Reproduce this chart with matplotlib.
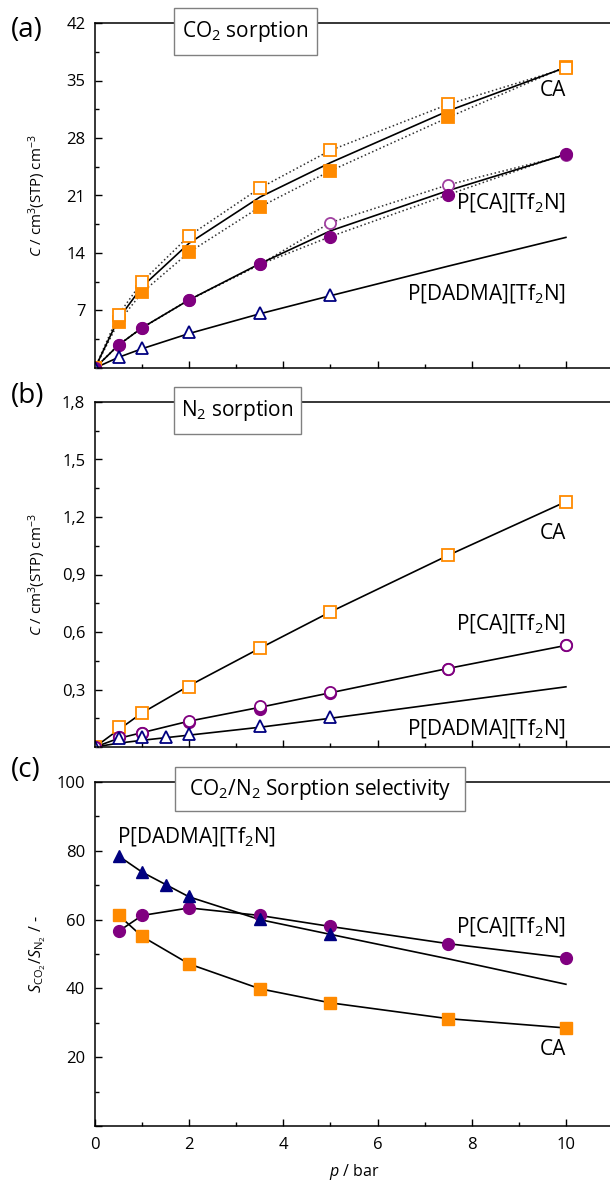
import matplotlib
matplotlib.use("Agg")
import matplotlib.pyplot as plt
from matplotlib.patches import Rectangle
from matplotlib.ticker import FuncFormatter, MultipleLocator

plt.rcParams["font.family"] = ["Open Sans", "DejaVu Sans"]
plt.rcParams["mathtext.fontset"] = "custom"
plt.rcParams["mathtext.rm"] = "Open Sans"
plt.rcParams["mathtext.it"] = "Open Sans:italic"
plt.rcParams["mathtext.bf"] = "Open Sans:bold"

ORANGE = "#ff8a00"
PURPLE = "#800080"
NAVY = "#000080"

# pressures (bar)
p_iso = [0, 0.5, 1, 2, 3.5, 5, 7.5, 10]
p_dadma_co2 = [0, 0.5, 1, 2, 3.5, 5]
p_dadma_n2 = [0, 0.5, 1, 1.5, 2, 3.5, 5]
p_sel = [0.5, 1, 2, 3.5, 5, 7.5, 10]
p_sel_dadma = [0.5, 1, 1.5, 2, 3.5, 5]
p_sel_dadma_fit = [0.5, 1, 1.5, 2, 3.5, 5, 7.5, 10]

# CO2 sorption, cm3(STP)/cm3
co2_ca_filled = [0, 5.6, 9.2, 14.1, 19.6, 24.0, 30.5, 36.7]
co2_ca_open = [0, 6.5, 10.5, 16.1, 21.9, 26.5, 32.1, 36.5]
co2_ca_fit = [0, 6.0, 9.9, 15.2, 20.8, 25.0, 31.3, 36.6]
co2_pca_filled = [0, 2.8, 4.9, 8.3, 12.6, 16.0, 21.1, 26.1]
co2_pca_open = [0, 2.8, 4.9, 8.3, 12.6, 17.7, 22.3, 25.9]
co2_pca_fit = [0, 2.8, 4.9, 8.3, 12.7, 16.7, 21.6, 26.0]
co2_dadma = [0, 1.35, 2.45, 4.35, 6.75, 8.9]
co2_dadma_fit = [0, 1.3, 2.35, 4.2, 6.6, 8.8, 12.4, 15.9]

# N2 sorption, cm3(STP)/cm3
n2_ca = [0, 0.105, 0.178, 0.315, 0.517, 0.706, 1.002, 1.279]
n2_ca_fit = [0, 0.09, 0.178, 0.32, 0.515, 0.705, 1.0, 1.28]
n2_pca_filled = [0, 0.05, 0.072, 0.13, 0.197, 0.283, 0.405, 0.53]
n2_pca_open = [0, 0.05, 0.075, 0.134, 0.214, 0.287, 0.408, 0.530]
n2_pca_fit = [0, 0.045, 0.075, 0.135, 0.207, 0.283, 0.41, 0.53]
n2_dadma = [0, 0.045, 0.054, 0.054, 0.068, 0.108, 0.157]
n2_dadma_fit = [0, 0.02, 0.035, 0.062, 0.103, 0.15, 0.232, 0.314]

# CO2/N2 sorption selectivity
sel_ca = [61.3, 55.1, 47.1, 39.9, 35.8, 31.2, 28.5]
sel_pca = [56.6, 61.2, 63.4, 61.2, 58.0, 53.0, 48.9]
sel_dadma = [78.5, 73.8, 70.2, 66.9, 60.2, 55.9]
sel_dadma_fit = [78.5, 73.8, 70.2, 66.6, 60.0, 55.7, 48.6, 41.2]

W, H = 610, 1184
fig = plt.figure(figsize=(W / 100, H / 100), dpi=100)


def px_axes(top, bottom):
    left, right = 95, 613
    return fig.add_axes([left / W, 1 - bottom / H, (right - left) / W, (bottom - top) / H])


def style_axes(ax, ymax, ymajor, fmt, show_x):
    ax.set_xlim(0, 11)
    ax.set_ylim(0, ymax)
    ax.xaxis.set_major_locator(MultipleLocator(2))
    ax.xaxis.set_minor_locator(MultipleLocator(1))
    ax.yaxis.set_major_locator(MultipleLocator(ymajor))
    ax.yaxis.set_minor_locator(MultipleLocator(ymajor / 2))
    ax.spines["right"].set_visible(False)
    for s in ax.spines.values():
        s.set_linewidth(1.1)
    ax.tick_params(which="both", direction="in", top=False, right=False, width=1)
    ax.tick_params(which="major", length=5, labelsize=12, pad=7)
    ax.tick_params(which="minor", length=3)
    ax.tick_params(axis="x", pad=8)
    ax.yaxis.set_major_formatter(FuncFormatter(lambda v, _: "" if abs(v) < 1e-9 else fmt(v)))
    if not show_x:
        ax.set_xticklabels([])
    ax.yaxis.set_label_coords(-0.09, 0.5)


def title_box(x0, y0, x1, y1, text):
    fig.add_artist(Rectangle((x0 / W, 1 - y1 / H), (x1 - x0) / W, (y1 - y0) / H,
                             transform=fig.transFigure, facecolor="white",
                             edgecolor="#808080", linewidth=1, zorder=10))
    fig.text((x0 + x1) / 2 / W, 1 - (y0 + y1) / 2 / H, text, ha="center", va="center",
             fontsize=15, zorder=11)


mk = dict(markersize=8, markeredgewidth=1.3)
series_fs = 15
ylab_fs = 10.8

# (a) CO2 sorption
ax = px_axes(23, 368)
ax.plot(p_iso, co2_ca_open, ":", color="#303030", lw=1.1)
ax.plot(p_iso, co2_ca_filled, ":", color="#303030", lw=1.1)
ax.plot(p_iso, co2_ca_fit, "-", color="black", lw=1.2)
ax.plot(p_iso, co2_pca_open, ":", color="#303030", lw=1.1)
ax.plot(p_iso, co2_pca_filled, ":", color="#303030", lw=1.1)
ax.plot(p_iso, co2_pca_fit, "-", color="black", lw=1.2)
ax.plot(p_iso, co2_dadma_fit, "-", color="black", lw=1.2)
ax.plot(p_iso, co2_ca_filled, "s", color=ORANGE, **mk)
ax.plot(p_iso, co2_ca_open, "s", mfc="white", mec=ORANGE, **mk)
ax.plot(p_iso, co2_pca_open, "o", mfc="white", mec="#a040a0", **mk)
ax.plot(p_iso, co2_pca_filled, "o", color=PURPLE, markersize=8.5)
ax.plot(p_dadma_co2, co2_dadma, "^", mfc="white", mec=NAVY, **mk)
ax.text(10.0, 33.8, "CA", ha="right", va="center", fontsize=series_fs)
ax.text(10.0, 20.0, "P[CA][Tf$_2$N]", ha="right", va="center", fontsize=series_fs)
ax.text(10.0, 8.9, "P[DADMA][Tf$_2$N]", ha="right", va="center", fontsize=series_fs)
style_axes(ax, 42, 7, lambda v: f"{v:.0f}", False)
ax.set_ylabel(r"$\mathit{C}$ / cm$^3$(STP) cm$^{-3}$", fontsize=ylab_fs)

# (b) N2 sorption
ax = px_axes(402, 747)
ax.plot(p_iso, n2_ca_fit, "-", color="black", lw=1.2)
ax.plot(p_iso, n2_pca_fit, "-", color="black", lw=1.2)
ax.plot(p_iso, n2_dadma_fit, "-", color="black", lw=1.2)
ax.plot(p_iso, n2_ca, "s", mfc="white", mec=ORANGE, **mk)
ax.plot(p_iso, n2_pca_filled, "o", color=PURPLE, markersize=8.5)
ax.plot(p_iso, n2_pca_open, "o", mfc="white", mec=PURPLE, **mk)
ax.plot(p_dadma_n2, n2_dadma, "^", mfc="white", mec=NAVY, **mk)
ax.text(10.0, 1.116, "CA", ha="right", va="center", fontsize=series_fs)
ax.text(10.0, 0.64, "P[CA][Tf$_2$N]", ha="right", va="center", fontsize=series_fs)
ax.text(10.0, 0.092, "P[DADMA][Tf$_2$N]", ha="right", va="center", fontsize=series_fs)
style_axes(ax, 1.8, 0.3, lambda v: f"{v:.1f}".replace(".", ","), False)
ax.set_ylabel(r"$\mathit{C}$ / cm$^3$(STP) cm$^{-3}$", fontsize=ylab_fs)

# (c) selectivity
ax = px_axes(782, 1126)
ax.plot(p_sel_dadma_fit, sel_dadma_fit, "-", color="black", lw=1.2)
ax.plot(p_sel, sel_pca, "-", color="black", lw=1.2)
ax.plot(p_sel, sel_ca, "-", color="black", lw=1.2)
ax.plot(p_sel, sel_ca, "s", color=ORANGE, markersize=8)
ax.plot(p_sel, sel_pca, "o", color=PURPLE, markersize=8.5)
ax.plot(p_sel_dadma, sel_dadma, "^", color=NAVY, markersize=8.5)
ax.text(0.47, 84.0, "P[DADMA][Tf$_2$N]", ha="left", va="center", fontsize=series_fs)
ax.text(10.0, 57.6, "P[CA][Tf$_2$N]", ha="right", va="center", fontsize=series_fs)
ax.text(10.0, 22.1, "CA", ha="right", va="center", fontsize=series_fs)
style_axes(ax, 100, 20, lambda v: f"{v:.0f}", True)
ax.xaxis.set_major_formatter(FuncFormatter(lambda v, _: f"{v:.0f}"))
ax.set_ylabel(r"$\mathit{S}_{\mathrm{CO}_2}/\mathit{S}_{\mathrm{N}_2}$ / -", fontsize=ylab_fs + 0.7)
ax.set_xlabel(r"$\mathit{p}$ / bar", fontsize=ylab_fs + 0.7)
ax.xaxis.set_label_coords(0.5, -0.105)

title_box(174, 8, 317, 55, "CO$_2$ sorption")
title_box(174, 387, 301, 434, "N$_2$ sorption")
title_box(175, 767, 465, 811, "CO$_2$/N$_2$ Sorption selectivity")

for ycen, letter in [(30, "(a)"), (396, "(b)"), (770, "(c)")]:
    fig.text(11 / W, 1 - ycen / H, letter, ha="left", va="center", fontsize=20)

fig.savefig("out.png", dpi=100)
